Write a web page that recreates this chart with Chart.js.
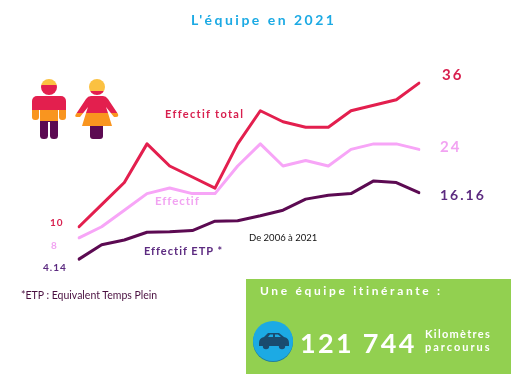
<!DOCTYPE html>
<html lang="fr">
<head>
<meta charset="utf-8">
<title>L'équipe en 2021</title>
<script src="https://cdn.jsdelivr.net/npm/chart.js@4"></script>
<style>
  html, body { margin: 0; padding: 0; background: #fff; }
  #page { position: relative; width: 516px; height: 381px; overflow: hidden; font-family: Lato, sans-serif; }
  #page canvas { position: absolute; left: 0; top: 0; }
  .t { position: absolute; white-space: nowrap; font-weight: 700; line-height: 1; transform: translateY(-50%); }
  #box { position: absolute; left: 246px; top: 279px; width: 265px; height: 95px; background: #92d050; }
  svg { position: absolute; left: 0; top: 0; }
</style>
</head>
<body>
<div id="page">
  <div id="box"></div>
  <canvas id="chart" width="516" height="381"></canvas>
  <svg width="516" height="381" viewBox="0 0 516 381">
    <defs>
      <linearGradient id="manFill" gradientUnits="userSpaceOnUse" x1="0" y1="79" x2="0" y2="139">
        <stop offset="0.1" stop-color="#fbc141"/><stop offset="0.1" stop-color="#e31f4e"/>
        <stop offset="0.52" stop-color="#e31f4e"/><stop offset="0.52" stop-color="#f9951f"/>
        <stop offset="0.7" stop-color="#f9951f"/><stop offset="0.7" stop-color="#5c0a52"/>
      </linearGradient>
      <linearGradient id="womanFill" gradientUnits="userSpaceOnUse" x1="0" y1="79" x2="0" y2="139">
        <stop offset="0.2" stop-color="#fbc141"/><stop offset="0.2" stop-color="#e31f4e"/>
        <stop offset="0.57" stop-color="#e31f4e"/><stop offset="0.57" stop-color="#f9951f"/>
        <stop offset="0.78" stop-color="#f9951f"/><stop offset="0.78" stop-color="#5c0a52"/>
      </linearGradient>
    </defs>
    <g fill="url(#manFill)">
      <circle cx="49" cy="87" r="8"/>
      <rect x="40" y="100" width="18" height="22"/>
      <rect x="32" y="96" width="34" height="14" rx="5"/>
      <rect x="32" y="100" width="7" height="20" rx="3"/>
      <rect x="59" y="100" width="7" height="20" rx="3"/>
      <rect x="40" y="118" width="8" height="21" rx="3.5"/>
      <rect x="50" y="118" width="8" height="21" rx="3.5"/>
    </g>
    <g fill="url(#womanFill)">
      <circle cx="97" cy="87" r="8"/>
      <path d="M91 96 H103 Q106 96 108 99 L118 114 Q119 117 116 117 H114 L106 107 L108 113 L112 126 H82 L86 113 L88 107 L80 117 H77 Q74 117 76 114 L86 99 Q88 96 91 96 Z"/>
      <rect x="90" y="122" width="13" height="17" rx="3"/>
    </g>
    <circle cx="273" cy="342" r="20" fill="#1f7f9e"/>
    <circle cx="273" cy="341" r="20" fill="#1caae4"/>
    <path d="M259 343 Q259 338 264 337 L268 333 H279 L284 337 Q289 338 289 343 V346 H259 Z" fill="#1a4b6e"/>
    <path d="M268 337 L270 334.5 H273 V337 Z M275 337 V334.5 H278 L281 337 Z" fill="#1caae4"/>
    <circle cx="266" cy="346" r="3.2" fill="#1a4b6e"/>
    <circle cx="282" cy="346" r="3.2" fill="#1a4b6e"/>
  </svg>
</div>
<script>
// Data
const years = ["2006", "2007", "2008", "2009", "2010", "2011", "2012", "2013", "2014", "2015", "2016", "2017", "2018", "2019", "2020", "2021"];
const effectifTotal = [10, 14, 18, 25, 21, 19, 17, 25, 31, 29, 28, 28, 31, 32, 33, 36];
const effectif = [8, 10, 13, 16, 17, 16, 16, 21, 25, 21, 22, 21, 24, 25, 25, 24];
const effectifEtp = [4.14, 6.75, 7.6, 9, 9.1, 9.3, 11, 11.1, 12, 13, 15, 15.7, 16, 18.3, 18, 16.16];

// Text, [string, left, middle y, size, spacing, colour, weight]
const texts = [
  ["L'équipe en 2021", 191, 20, 14, 2.5, "#1caae4", 700],
  ["Effectif total", 165, 113, 11, 1.3, "#d81f4e", 700],
  ["Effectif", 155, 201, 11.5, 0.9, "#f2a3f2", 700],
  ["Effectif ETP *", 144, 250, 11, 1, "#5c2a80", 700],
  ["De 2006 à 2021", 249, 238, 9.5, 0, "#111111", 400],
  ["10", 50, 222, 10, 1, "#d81f4e", 700],
  ["8", 51, 245, 10, 1, "#f2a3f2", 700],
  ["4.14", 43, 267, 10, 1, "#5c2a80", 700],
  ["36", 442, 74, 15, 2, "#d81f4e", 700],
  ["24", 440, 146, 15, 2, "#f2a3f2", 700],
  ["16.16", 440, 195, 14, 2, "#5c2a80", 700],
  ["*ETP : Equivalent Temps Plein", 21, 295, 10.5, 0, "#4a1040", 400],
  ["Une équipe itinérante :", 260, 291, 12, 2.65, "#ffffff", 700],
  ["121 744", 300, 342, 27, 2.3, "#ffffff", 700],
  ["Kilomètres", 425, 333, 11, 1.3, "#ffffff", 700],
  ["parcourus", 425, 346, 11, 2, "#ffffff", 700],
];

const page = document.getElementById("page");
texts.forEach(([str, x, y, size, spacing, color, weight]) => {
  const el = document.createElement("div");
  el.className = "t";
  el.textContent = str;
  el.style.left = x + "px";
  el.style.top = y + "px";
  el.style.fontSize = size + "px";
  el.style.letterSpacing = spacing + "px";
  el.style.color = color;
  el.style.fontWeight = weight;
  page.appendChild(el);
});

function line(label, data, color) {
  return { label, data, borderColor: color, borderWidth: 3, pointRadius: 0, tension: 0, borderCapStyle: "round", borderJoinStyle: "round", fill: false };
}

new Chart(document.getElementById("chart").getContext("2d"), {
  type: "line",
  data: {
    labels: years,
    datasets: [
      line("Effectif total", effectifTotal, "#e31f4e"),
      line("Effectif", effectif, "#f7a5f7"),
      line("Effectif ETP", effectifEtp, "#5c0a52"),
    ],
  },
  options: {
    responsive: false,
    animation: false,
    layout: { padding: { left: 79, right: 97, top: 61, bottom: 99 } },
    plugins: { legend: { display: false }, tooltip: { enabled: false } },
    scales: {
      x: { display: false, offset: false },
      y: { display: false, min: 0, max: 40 },
    },
  },
});
</script>
</body>
</html>
